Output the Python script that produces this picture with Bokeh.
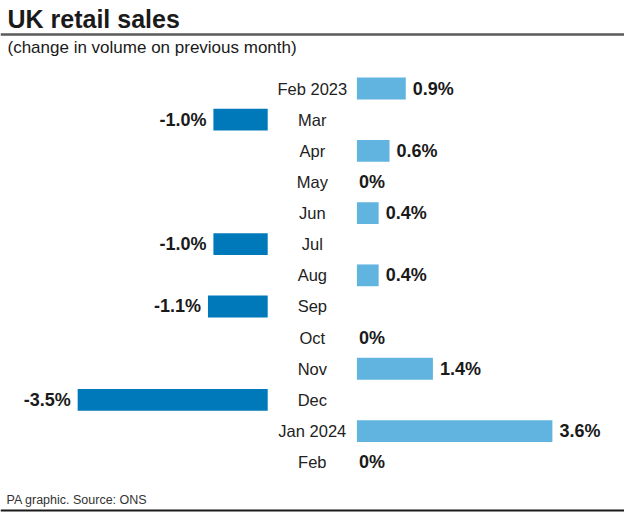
from bokeh.plotting import figure
from bokeh.models import Range1d, Label, Span, ColumnDataSource
from bokeh.core.properties import value
from bokeh.embed import file_html
from bokeh.resources import INLINE

months = ["Feb 2023", "Mar", "Apr", "May", "Jun", "Jul", "Aug", "Sep", "Oct", "Nov", "Dec", "Jan 2024", "Feb"]
changes = [0.9, -1.0, 0.6, 0.0, 0.4, -1.0, 0.4, -1.1, 0.0, 1.4, -3.5, 3.6, 0.0]

FONT = "Liberation Sans"
POS_COLOR = "#62b4e0"
NEG_COLOR = "#0079bb"
GAP = 1.643  # label gap between negative and positive baselines, in % units

W, H = 624, 516
p = figure(width=W, height=H, output_backend="svg", toolbar_location=None,
           x_range=Range1d(-6.564, 4.928), y_range=Range1d(13.744, -2.826),
           min_border=0, outline_line_color=None)
p.axis.visible = False
p.grid.visible = False
p.background_fill_color = "white"
p.border_fill_color = "white"

rows = list(range(len(months)))
pos = [(r, v) for r, v in zip(rows, changes) if v > 0]
neg = [(r, v) for r, v in zip(rows, changes) if v < 0]
zero = [(r, v) for r, v in zip(rows, changes) if v == 0]

pos_src = ColumnDataSource(dict(y=[r for r, _ in pos], right=[v for _, v in pos],
                                lab=[f"{v:.1f}%" for _, v in pos]))
neg_src = ColumnDataSource(dict(y=[r for r, _ in neg], left=[v - GAP for _, v in neg],
                                right=[-GAP for _ in neg],
                                lab=[f"{v:.1f}%" for _, v in neg]))
zero_src = ColumnDataSource(dict(y=[r for r, _ in zero], x=[v for _, v in zero],
                                 lab=["0%" for _ in zero]))
mon_src = ColumnDataSource(dict(y=rows, x=[-GAP / 2] * len(rows), lab=months))

p.hbar(y="y", left=0, right="right", height=0.70, source=pos_src,
       fill_color=POS_COLOR, line_color=None)
p.hbar(y="y", left="left", right="right", height=0.70, source=neg_src,
       fill_color=NEG_COLOR, line_color=None)

VAL_SIZE = "18px"
p.text(x="right", y="y", text="lab", source=pos_src, x_offset=7,
       text_align="left", text_baseline="middle", text_font=value(FONT),
       text_font_style="bold", text_font_size=VAL_SIZE, text_color="#1a1a1a")
p.text(x="left", y="y", text="lab", source=neg_src, x_offset=-7,
       text_align="right", text_baseline="middle", text_font=value(FONT),
       text_font_style="bold", text_font_size=VAL_SIZE, text_color="#1a1a1a")
p.text(x="x", y="y", text="lab", source=zero_src, x_offset=2,
       text_align="left", text_baseline="middle", text_font=value(FONT),
       text_font_style="bold", text_font_size=VAL_SIZE, text_color="#1a1a1a")
p.text(x="x", y="y", text="lab", source=mon_src,
       text_align="center", text_baseline="middle", text_font=value(FONT),
       text_font_size="16.5px", text_color="#222222")

p.add_layout(Label(x=7, y=H - 18, x_units="screen", y_units="screen",
                   text="UK retail sales", text_font=FONT, text_font_style="bold",
                   text_font_size="25px", text_color="#1a1a1a",
                   text_baseline="middle"))
p.add_layout(Span(location=H - 34, location_units="screen", dimension="width",
                  line_color="#5a5a5a", line_width=2.5))
p.add_layout(Label(x=7, y=H - 47, x_units="screen", y_units="screen",
                   text="(change in volume on previous month)", text_font=FONT,
                   text_font_size="17px", text_color="#1a1a1a",
                   text_baseline="middle"))
p.add_layout(Label(x=6, y=H - 499, x_units="screen", y_units="screen",
                   text="PA graphic. Source: ONS", text_font=FONT,
                   text_font_size="12.5px", text_color="#333333",
                   text_baseline="middle"))
p.add_layout(Span(location=H - 510, location_units="screen", dimension="width",
                  line_color="#1a1a1a", line_width=2))

open("out.html", "w").write(file_html(p, INLINE))
